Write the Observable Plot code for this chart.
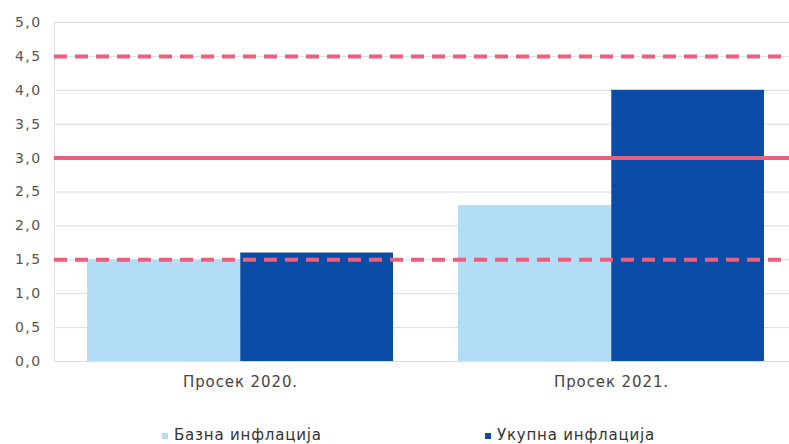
<!DOCTYPE html>
<html>
<head>
<meta charset="utf-8">
<script src="https://cdn.jsdelivr.net/npm/d3@7"></script>
<script src="https://cdn.jsdelivr.net/npm/@observablehq/plot@0.6"></script>
<style>
  body { margin: 0; background: #fff; font-family: "DejaVu Sans", sans-serif; }
  #wrap { position: relative; width: 789px; height: 444px; overflow: hidden; }
  #legend { position: absolute; left: 0; top: 427px; width: 789px; height: 17px; font-size: 15px; letter-spacing: 0.8px; color: #333; }
  .item { position: absolute; top: 0; display: flex; align-items: center; white-space: nowrap; line-height: 17px; }
  .sw { width: 6px; height: 6px; margin-right: 6px; }
  svg [aria-label="y-axis tick label"] text { letter-spacing: 1.4px; }
  svg [aria-label="x-axis tick label"] text { letter-spacing: 0.9px; }
</style>
</head>
<body>
<div id="wrap">
  <div id="chart"></div>
  <div id="legend"></div>
</div>
<script>
const categories = ["Просек 2020.", "Просек 2021."];
const series = ["Базна инфлација", "Укупна инфлација"];
const baseValues = [1.5, 2.3];
const totalValues = [1.6, 4.0];
const targetCentral = [3.0];
const targetBounds = [1.5, 4.5];
const yTicks = [0, 0.5, 1, 1.5, 2, 2.5, 3, 3.5, 4, 4.5, 5];
const colors = ["#b3dcf6", "#0b4da6"];
const lineColor = "#ea5f7c";

const W = 789, H = 400, ML = 54, MR = 0, MT = 22, MB = 39;
const xOpts = {type: "band", domain: categories, range: [ML, W - MR], paddingInner: 0.175, paddingOuter: 0.0767, align: 0.5625};
const bw = Plot.scale({x: xOpts}).bandwidth;

const baseRows = categories.map((c, i) => ({category: c, series: series[0], value: baseValues[i]}));
const totalRows = categories.map((c, i) => ({category: c, series: series[1], value: totalValues[i]}));

const chart = Plot.plot({
  width: W,
  height: H,
  marginLeft: ML,
  marginRight: MR,
  marginTop: MT,
  marginBottom: MB,
  style: {fontFamily: "DejaVu Sans, sans-serif", fontSize: "14px", background: "#fff"},
  x: {domain: categories, paddingInner: 0.175, paddingOuter: 0.0767, align: 0.5625, label: null, axis: null},
  y: {domain: [0, 5], label: null, axis: null},
  color: {domain: series, range: colors},
  marks: [
    Plot.gridY(yTicks, {stroke: "#dcdcdc", strokeOpacity: 1, strokeWidth: 1}),
    Plot.frame({anchor: "left", stroke: "#e2e2e2"}),
    Plot.axisY(yTicks, {tickSize: 0, tickPadding: 13, fill: "#555", fontSize: 14,
      tickFormat: d => d.toFixed(1).replace(".", ","), label: null}),
    Plot.barY(baseRows, {x: "category", y: "value", fill: "series", insetRight: bw / 2 - 0.5}),
    Plot.barY(totalRows, {x: "category", y: "value", fill: "series", insetLeft: bw / 2}),
    Plot.axisX({anchor: "bottom", tickSize: 0, tickPadding: 15, fontSize: 15, fill: "#444", label: null}),
    Plot.ruleY(targetCentral, {stroke: lineColor, strokeWidth: 4}),
    Plot.ruleY(targetBounds, {stroke: lineColor, strokeWidth: 4, strokeDasharray: "13,8"})
  ]
});
document.getElementById("chart").appendChild(chart);

const legend = document.getElementById("legend");
const lx = [162, 485];
series.forEach((s, i) => {
  const it = document.createElement("div");
  it.className = "item";
  it.style.left = lx[i] + "px";
  it.innerHTML = `<span class="sw" style="background:${colors[i]}"></span><span>${s}</span>`;
  legend.appendChild(it);
});
</script>
</body>
</html>
